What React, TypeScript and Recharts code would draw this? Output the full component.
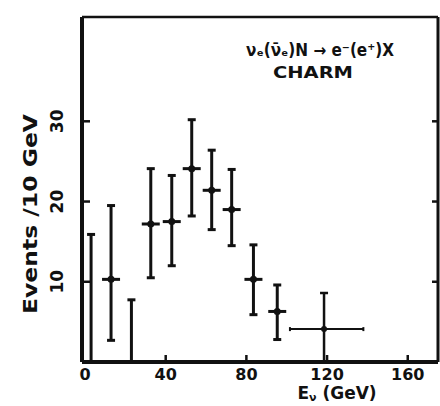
import React from 'react';
import { ComposedChart, Scatter, ErrorBar, XAxis, YAxis, Customized } from 'recharts';

// bins with a measured point (GeV, events / 10 GeV, asymmetric errors)
const energy = [12.9, 32.6, 43, 52.9, 62.8, 72.7, 83.5, 95.3];
const events = [10.3, 17.2, 17.5, 24.1, 21.4, 19.0, 10.3, 6.3];
const errLow = [7.6, 6.7, 5.5, 5.9, 4.9, 4.5, 4.4, 3.5];
const errHigh = [9.2, 6.9, 5.75, 6.1, 5.0, 5.0, 4.3, 3.3];

// empty bins, only an upper limit bar from zero
const emptyBinEnergy = [3, 23];
const emptyBinLimit = [15.9, 7.75];

// last, wide bin
const wideBinEnergy = [118.5];
const wideBinEvents = [4.1];
const wideBinErrY = [[4.1, 4.5]];
const wideBinErrX = [[16.9, 19.5]];

const xTicks = [0, 40, 80, 120, 160];
const yTicks = [10, 20, 30];
const xDomain = [-1.5, 175];
const yDomain = [0, 43];

const points = energy.map((x, i) => ({ x, y: events[i], err: [errLow[i], errHigh[i]] }));
const emptyBins = emptyBinEnergy.map((x, i) => ({ x, y: 0, err: [0, emptyBinLimit[i]] }));
const wideBin = wideBinEnergy.map((x, i) => ({ x, y: wideBinEvents[i], errY: wideBinErrY[i], errX: wideBinErrX[i] }));

const ink = '#111';
const font = "'DejaVu Sans', sans-serif";

const CrossPoint = (props: any) => {
  const { cx, cy } = props;
  return (
    <g>
      <line x1={cx - 9} x2={cx + 9} y1={cy} y2={cy} stroke={ink} strokeWidth={3} />
      <circle cx={cx} cy={cy} r={3.5} fill={ink} />
    </g>
  );
};

const SmallDot = (props: any) => <circle cx={props.cx} cy={props.cy} r={3} fill={ink} />;

const NoMark = () => <g />;

const BottomTick = (props: any) => {
  const { x, y, payload } = props;
  return (
    <g>
      {payload.value !== 0 && <line x1={x} x2={x} y1={y} y2={y - 7} stroke={ink} strokeWidth={2.5} />}
      <text x={x} y={y + 18} textAnchor="middle" fontSize={16} fontWeight="bold" fontFamily={font} fill={ink}>
        {payload.value}
      </text>
    </g>
  );
};

const TopTick = (props: any) => {
  const { x, y } = props;
  return <line x1={x} x2={x} y1={y} y2={y + 6} stroke={ink} strokeWidth={2.5} />;
};

const LeftTick = (props: any) => {
  const { x, y, payload } = props;
  return (
    <g>
      <line x1={x} x2={x + 8} y1={y} y2={y} stroke={ink} strokeWidth={2.5} />
      <text
        x={x - 25}
        y={y}
        transform={`rotate(-90 ${x - 25} ${y})`}
        textAnchor="middle"
        dominantBaseline="central"
        fontSize={17}
        fontWeight="bold"
        fontFamily={font}
        fill={ink}
      >
        {payload.value}
      </text>
    </g>
  );
};

const RightTick = (props: any) => {
  const { x, y } = props;
  return <line x1={x} x2={x - 6} y1={y} y2={y} stroke={ink} strokeWidth={2.5} />;
};

const Labels = () => (
  <g fontFamily={font} fill={ink} fontWeight="bold">
    <text x={320} y={56} textAnchor="middle" fontSize={17} textLength={148} lengthAdjust="spacingAndGlyphs">
      νₑ(ν̄ₑ)N → e⁻(e⁺)X
    </text>
    <text x={313} y={78} textAnchor="middle" fontSize={16} textLength={80} lengthAdjust="spacingAndGlyphs">
      CHARM
    </text>
    <text
      x={30}
      y={214}
      transform="rotate(-90 30 214)"
      textAnchor="middle"
      dominantBaseline="central"
      fontSize={19}
      textLength={200}
      lengthAdjust="spacingAndGlyphs"
    >
      Events /10 GeV
    </text>
    <text x={337} y={399} textAnchor="middle" fontSize={17}>
      E<tspan fontSize={11} dy={2}>ν</tspan>
      <tspan dy={-2}> (GeV)</tspan>
    </text>
  </g>
);

export default function App() {
  return (
    <div style={{ position: 'absolute', left: 0, top: 0, width: 440, height: 406, background: '#fff' }}>
      <ComposedChart width={440} height={406} margin={{ top: 0, right: 0, bottom: 0, left: 0 }}>
        <XAxis
          xAxisId="bottom"
          dataKey="x"
          type="number"
          domain={xDomain}
          ticks={xTicks}
          allowDataOverflow
          height={44}
          tickSize={0}
          tickMargin={0}
          tickLine={false}
          axisLine={{ stroke: ink, strokeWidth: 4 }}
          tick={<BottomTick />}
        />
        <XAxis
          xAxisId="top"
          orientation="top"
          type="number"
          domain={xDomain}
          ticks={xTicks.slice(1)}
          allowDataOverflow
          height={17}
          tickSize={0}
          tickMargin={0}
          tickLine={false}
          axisLine={{ stroke: ink, strokeWidth: 2.5 }}
          tick={<TopTick />}
        />
        <YAxis
          yAxisId="left"
          type="number"
          domain={yDomain}
          ticks={yTicks}
          allowDataOverflow
          width={82}
          tickSize={0}
          tickMargin={0}
          tickLine={false}
          axisLine={{ stroke: ink, strokeWidth: 4 }}
          tick={<LeftTick />}
        />
        <YAxis
          yAxisId="right"
          orientation="right"
          type="number"
          domain={yDomain}
          ticks={yTicks}
          allowDataOverflow
          width={2}
          tickSize={0}
          tickMargin={0}
          tickLine={false}
          axisLine={{ stroke: ink, strokeWidth: 3 }}
          tick={<RightTick />}
        />

        <Scatter xAxisId="bottom" yAxisId="left" data={emptyBins} dataKey="y" shape={<NoMark />} isAnimationActive={false}>
          <ErrorBar dataKey="err" direction="y" width={4} stroke={ink} strokeWidth={3} />
        </Scatter>
        <Scatter xAxisId="bottom" yAxisId="left" data={points} dataKey="y" shape={<CrossPoint />} isAnimationActive={false}>
          <ErrorBar dataKey="err" direction="y" width={4} stroke={ink} strokeWidth={3} />
        </Scatter>
        <Scatter xAxisId="bottom" yAxisId="left" data={wideBin} dataKey="y" shape={<SmallDot />} isAnimationActive={false}>
          <ErrorBar dataKey="errY" direction="y" width={4} stroke={ink} strokeWidth={2.5} />
          <ErrorBar dataKey="errX" direction="x" width={2} stroke={ink} strokeWidth={2} />
        </Scatter>

        <Customized component={<Labels />} />
      </ComposedChart>
    </div>
  );
}
